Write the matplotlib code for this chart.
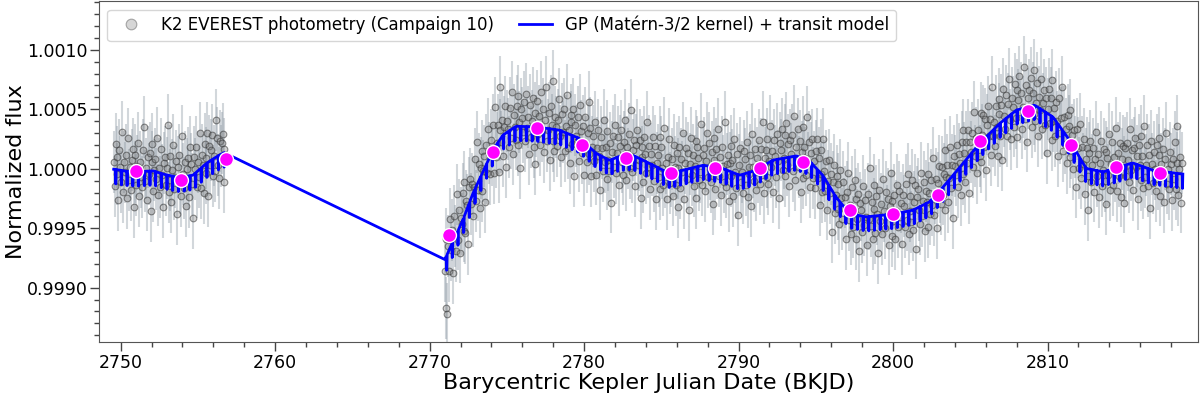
import numpy as np
import matplotlib.pyplot as plt

# =====================================
# DATA
# =====================================

CADENCE = 0.02043  # K2 long cadence [d]

seg1_start, seg1_end = 2749.55, 2756.73
seg2_start, seg2_end = 2770.97, 2818.76

# GP trend (out-of-transit level), ppm relative to 1
trend_time = [2749.55, 2750.3, 2751.0, 2752.1, 2752.85, 2753.8, 2754.68, 2755.54, 2756.2, 2756.73,
              2770.97, 2771.5, 2772.15, 2772.8, 2773.45, 2774.1, 2774.74, 2775.6, 2776.9, 2778.4,
              2779.7, 2780.8, 2781.65, 2782.3, 2783.15, 2784.24, 2785.53, 2786.4, 2787.69, 2788.98,
              2790.06, 2791.14, 2792.2, 2793.73, 2794.54, 2795.45, 2796.3, 2797.18, 2798.25, 2799.98,
              2801.27, 2802.36, 2803.44, 2804.52, 2805.6, 2806.9, 2807.97, 2809.16, 2810.35, 2811.42,
              2812.5, 2813.6, 2814.66, 2815.5, 2816.82, 2818.76]
trend_ppm = [-4, -20, -27, -18, -49, -74, -55, 44, 100, 136,
             -769, -615, -433, -208, -27, 155, 282, 357, 351, 324,
             254, 128, 70, 105, 113, 44, -40, -13, 29, 2,
             -55, -13, 71, 108, 71, -55, -237, -377, -405, -382,
             -349, -279, -124, 44, 212, 380, 492, 534, 435, 240,
             2, -27, 15, 49, -13, -46]

# transit ephemeris
period = 0.3693
t0 = 2749.68
depth_ppm = 120
half_dur = 0.015

# binned photometry (magenta)
bin_time = [2751.0, 2753.93, 2756.84, 2771.25, 2774.10, 2776.95, 2779.88, 2782.7, 2785.64, 2788.48,
            2791.36, 2794.17, 2797.18, 2799.98, 2802.9, 2805.65, 2808.72, 2811.5, 2814.4, 2817.3]
bin_ppm = [-18, -91, 82, -559, 141, 343, 197, 94, -40, 2,
           2, 57, -349, -377, -223, 235, 486, 197, 15, -35]

# photometry residuals from the trend, units of 12 ppm (every 3rd cadence)
RESID_UNIT = 12
resid1 = [5, -12, 18, -3, 9, -21, 14, 2, -8, 27, -15, 6, -1, 11, -19, 23, -6, 3, -13, 8, 16, -25, 0, 12, -9, 4, 20, -17, 7, -4,
          -11, 15, 31, -7, 2, -20, 10, -2, 13, -28, 6, 19, -14, 1, 9, -5, 24, -16, 3, -10, 17, -1, -23, 8, 12, -7, 5, 35, -12, -3,
          14, -18, 4, 22, -9, 0, 11, -26, 7, 16, -4, -13, 29, 2, -8, 10, -21, 5, 13, -2, -15, 20, 8, -6, -30, 12, 3, 18, -11, 6,
          -5, 25, -14, 9, 1, -19, 15, 4, -7, 21, -24, 11, -3, 7, 17, -12, 2, -9, 26, 13, -6, -16, 10, -1, 8, 14, -20, 3]
resid2 = [-8, -35, 12, -42, 4, -15, 20, -3, 9, -22, 16, 1, -11, 27, -6, 13, -18, 5, -1, 19, -9, 24, -14, 7, 2, -27, 11, 15, -4, 8,
          -16, 3, 21, -10, 30, -5, 12, -20, 6, 17, -13, 0, 9, -25, 14, -7, 22, 4, -12, 10, -2, 18, -17, 28, -8, 1, 13, -21, 7, 36,
          -3, 11, -15, 5, 19, -24, 8, 2, -11, 16, -6, 26, -18, 9, 0, -9, 14, 21, -13, 3, -29, 12, 6, -4, 17, -10, 23, -1, 7, -19,
          15, -7, 4, 20, -14, 10, -26, 1, 18, -5, 8, -12, 25, -2, 13, -17, 6, 29, -9, -1, 11, -22, 16, 3, -8, 34, -15, 9, 2, -11,
          7, 22, -4, -18, 12, 0, 16, -13, 5, 27, -10, 3, -20, 14, 9, -6, 19, -28, 8, 1, -3, 15, -16, 24, 6, -9, 11, -23, 18, -2,
          -12, 9, 31, -5, 14, -19, 2, 10, -7, 21, -15, 4, 17, -1, -24, 13, 6, -10, 26, -3, 8, -14, 20, 0, -8, 12, -30, 5, 16, -6,
          23, -11, 3, 14, -20, 7, 18, -4, -13, 10, 1, 25, -17, 6, -2, 15, -9, 32, -12, 4, 11, -21, 8, 19, -5, -1, 13, -27, 9, 2,
          -15, 17, 5, -8, 28, -3, 12, -18, 7, 0, 20, -11, 14, -23, 3, 9, -6, 22, -14, 16, 1, -10, 30, -4, 6, -19, 11, 24, -7, -2,
          10, -16, 19, 4, -9, 13, -25, 2, 17, -12, 8, -1, 26, -20, 5, 15, -7, 11, -29, 3, 21, -5, 9, -13, 1, 18, -22, 14, 6, -10,
          -4, 29, -14, 7, 12, -18, 3, 23, -8, 16, -2, -11, 10, -26, 20, 5, -15, 13, 0, 27, -6, 8, -19, 15, 2, -9, 33, -12, 4, 11,
          -21, 6, 18, -3, 9, -16, 24, 1, -10, 14, -28, 7, 19, -5, 2, -13, 16, 10, -8, 22, -17, 4, -1, 12, -24, 26, 3, -7, 15, -14,
          8, -2, 20, -11, 13, -6, 31, -19, 5, 10, -9, 17, -15, 1, 25, -4, 7, -22, 14, 3, -12, 18, -1, -27, 11, 6, 21, -8, 0, 16,
          -13, 24, -5, 9, -20, 12, 2, 15, -10, 28, -17, 6, -3, 19, -7, 11, -24, 4, 22, -14, 8, 1, -11, 30, -2, 13, -18, 7, 17, -9,
          3, -15, 12, 21, -6, 9, -23, 16, 0, -12, 26, 5, -8, 14, -19, 2, 18, -4, 10, -29, 7, 20, -13, 1, 15, -7, 11, -16, 23, 4,
          -10, 17, -1, 8, -21, 13, 27, -5, 6, -14, 19, -9, 2, 24, -17, 11, -3, 15, -25, 9, 4, -11, 21, -6, 12, 0, -20, 16, -2, 34,
          -7, 10, -16, 5, 22, -12, 14, 1, -26, 18, -4, 8, -13, 25, 3, -9, 16, -1, 11, -21, 6, 29, -15, 9, -5, 13, -18, 2, 20, -10,
          15, -3, 7, -22, 12, 4, -11, 19, -6, 26, -16, 0, 10, -8, 21, -14, 5, 17, -28, 8, 13, -2, -12, 23, -7, 3, 16, -19, 9, 1,
          -17, 20, 6, -9, 14, -4, 28, -13, 2, 11, -24, 7, 18, -1, -10, 15, -5, 9, 25, -18, 4, 12, -15, 1, 22, -7, 8, -30, 13, 5,
          -2, 18, -12, 10, 3, -20, 16, 24, -8, 6, -15, 12, -3, 19, -26, 9, 1, 14, -11, 27, -5, 7, -18, 11, 2, -9, 21, -14, 4, 17,
          -6, 13, -23, 8, 20, -1, 10, -16, 31, -4, 5, -12, 15, 0, -21, 18, 7, -9, 12, -27, 22, 3, -7, 16, -13, 9, 26, -3, -17, 11,
          4, -10, 19, -5, 14, -19, 7, 23, -2, 11, -14, 1, 29, -8, 16, -24, 6, 12, -3, 20, -15, 9, -6, 25, -11, 2, 17, -20, 8, -1,
          21, -13, 5, 15, -9, 10, -28, 3, 18, -6, 12, -17, 26, -2, 8, -11, 14, 1, -22, 19, -4, 7, 30, -14, 11, -7, 4, -19, 16, 9,
          -12, 22, -3, 7, -16, 13, 2, -25, 17, 5, -8, 24, -13, 10, -1, 18, -20, 6, 14, -5, -29, 11, 20, -9, 3, 15, -15, 8, 27, -4,
          12, -18, 6, 21, -10, 1, 16, -7, -23, 13, 9, -3, 25, -14, 4, 19, -11, 8, -2, 28, -16, 10, -6, 17, -21, 5, 14, -1, -26, 12,
          -8, 15, 3, -13, 24, -5, 9, -19, 11, 18, -2, 6, -24, 14, 0, 21, -10, 7, -15, 29, -7, 2, 16, -12, 10, -27, 20, 4, -9, 13,
          1, -14, 18, -6, 11, 23, -17, 5, -3, 16, -21, 9, 27, -8, 2, -12, 14, 6, -19, 10, -4, 22, -11, 7, 33, -15, 3, 12, -20, 8]

flux_err = 0.00026


# =====================================
# MODEL
# =====================================

def trend(t, k=9):
    base = np.interp(t, trend_time, trend_ppm)
    pad = np.pad(base, k // 2, mode="edge")
    return np.convolve(pad, np.ones(k) / k, mode="valid")


def transit(t):
    phase = (t - t0 + 0.5 * period) % period - 0.5 * period
    return np.where(np.abs(phase) < half_dur, -depth_ppm, 0.0)


t1 = np.arange(seg1_start, seg1_end, CADENCE)
t2 = np.arange(seg2_start, seg2_end, CADENCE)
tr1, tr2 = trend(t1), trend(t2)

t_model = np.concatenate([t1, t2])
f_model = 1 + 1e-6 * np.concatenate([tr1 + transit(t1), tr2 + transit(t2)])

n1 = min(len(resid1), len(t1[::3]))
n2 = min(len(resid2), len(t2[::3]))
t_obs = np.concatenate([t1[::3][:n1], t2[::3][:n2]])
f_obs = 1 + 1e-6 * np.concatenate([tr1[::3][:n1] + RESID_UNIT * np.array(resid1[:n1]),
                                   tr2[::3][:n2] + RESID_UNIT * np.array(resid2[:n2])])

# =====================================
# PLOT
# =====================================

fig = plt.figure(figsize=(12, 3.97), dpi=100)
ax = fig.add_axes([0.0825, 0.139, 0.916, 0.858])

ax.errorbar(t_obs, f_obs, yerr=flux_err, fmt="none", ecolor="#8a96a2",
            elinewidth=1.5, alpha=0.38, zorder=1)
ax.plot(t_obs, f_obs, "o", ms=4.8, mfc=(0.5, 0.5, 0.5, 0.35),
        mec=(0.2, 0.2, 0.2, 0.55), mew=0.8, zorder=2,
        label="K2 EVEREST photometry (Campaign 10)")

ax.plot(t_model, f_model, color="blue", lw=2, zorder=3,
        label="GP (Matérn-3/2 kernel) + transit model")

ax.plot(bin_time, 1 + 1e-6 * np.array(bin_ppm), "o", ms=10, color="magenta",
        mec="white", mew=1, zorder=4)

ax.set_xlim(2748.6, 2819.75)
ax.set_ylim(0.998545, 1.001408)

ax.set_xticks([2750, 2760, 2770, 2780, 2790, 2800, 2810])
ax.set_xticks(np.arange(2750, 2819, 2), minor=True)
ax.set_yticks([0.9990, 0.9995, 1.0000, 1.0005, 1.0010])
ax.set_yticks(np.arange(0.9986, 1.00141, 0.0001), minor=True)
ax.yaxis.set_major_formatter(plt.FormatStrFormatter("%.4f"))

ax.tick_params(which="major", length=6.5, width=1, labelsize=12.5, color="#444444")
ax.tick_params(which="minor", length=3.5, width=1, color="#444444")
ax.tick_params(axis="y", which="major", pad=1.5)
ax.tick_params(axis="x", which="major", pad=2)
for s in ax.spines.values():
    s.set_color("#555555")

ax.set_xlabel("Barycentric Kepler Julian Date (BKJD)", fontsize=16, labelpad=1)
ax.set_ylabel("Normalized flux", fontsize=16, labelpad=1)

leg = ax.legend(loc="upper left", ncol=2, fontsize=12, markerscale=1.6,
                borderaxespad=0.5, columnspacing=1.5)
leg.legend_handles[0].set_markerfacecolor((0.6, 0.6, 0.6, 0.4))
leg.legend_handles[0].set_markeredgecolor((0.45, 0.45, 0.45, 0.6))

fig.savefig("out.png", dpi=100)
